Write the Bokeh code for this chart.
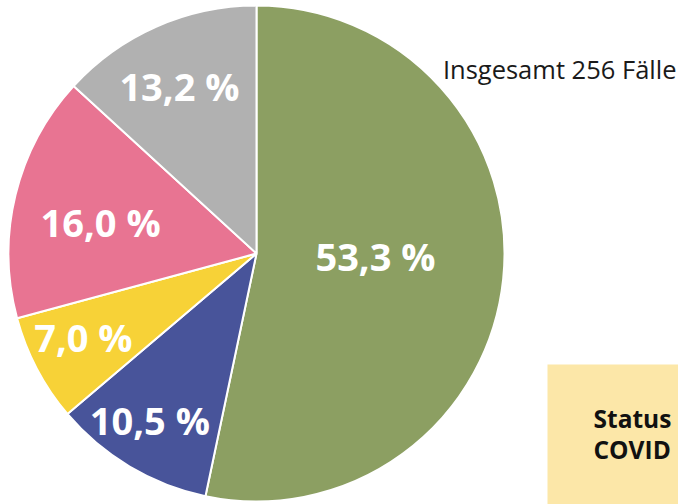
import numpy as np
from bokeh.plotting import figure
from bokeh.models import Range1d, ColumnDataSource
from bokeh.core.properties import value
from bokeh.embed import file_html
from bokeh.resources import INLINE

# data
shares = [53.3, 10.5, 7.0, 16.0, 13.2]
labels = ["53,3 %", "10,5 %", "7,0 %", "16,0 %", "13,2 %"]
colors = ["#8C9F62", "#48549A", "#F7D237", "#E87492", "#B1B1B1"]
total_text = "Insgesamt 256 Fälle"
legend_lines = ["Status", "COVID"]

# layout (pixel-like data coordinates, y up)
W, H = 678, 504
cx, cy, R = 256, 251, 248
label_r = [119, 198, 192, 159, 184]
label_nudge_deg = [4.7, -1.8, -2.1, 2.3, 1.0]

vals = np.array(shares)
frac = vals / vals.sum()
cum = np.concatenate([[0], np.cumsum(frac)])
start = np.pi / 2 - 2 * np.pi * cum[:-1]
end = np.pi / 2 - 2 * np.pi * cum[1:]
mid = (start + end) / 2 + np.radians(label_nudge_deg)
lx = cx + np.array(label_r) * np.cos(mid)
ly = cy + np.array(label_r) * np.sin(mid)

src = ColumnDataSource(dict(start=start, end=end, color=colors,
                            lx=lx, ly=ly, label=labels))

p = figure(width=W, height=H, output_backend="svg", toolbar_location=None,
           x_range=Range1d(0, W), y_range=Range1d(0, H),
           min_border=0, outline_line_color=None)
p.axis.visible = False
p.grid.visible = False
p.background_fill_color = "white"

p.wedge(x=cx, y=cy, radius=R, start_angle="start", end_angle="end",
        direction="clock", fill_color="color", line_color="white",
        line_width=2, source=src)

p.text(x="lx", y="ly", text="label", source=src, text_color="white",
       text_font=value("Open Sans"), text_font_style="bold",
       text_font_size="38px", text_align="center", text_baseline="middle")

p.text(x=[676], y=[H - 68], text=[total_text], text_color="#1a1a1a",
       text_font=value("Open Sans"), text_font_size="25.5px",
       text_align="right", text_baseline="middle")

p.quad(left=[547], right=[720], top=[H - 364], bottom=[-20],
       fill_color="#FCE7A8", line_color=None)
p.text(x=[593, 593], y=[H - 418, H - 449], text=legend_lines,
       text_color="#111111", text_font=value("Open Sans"),
       text_font_style="bold", text_font_size="24.5px",
       text_align="left", text_baseline="middle")

open("out.html", "w").write(file_html(p, INLINE))
